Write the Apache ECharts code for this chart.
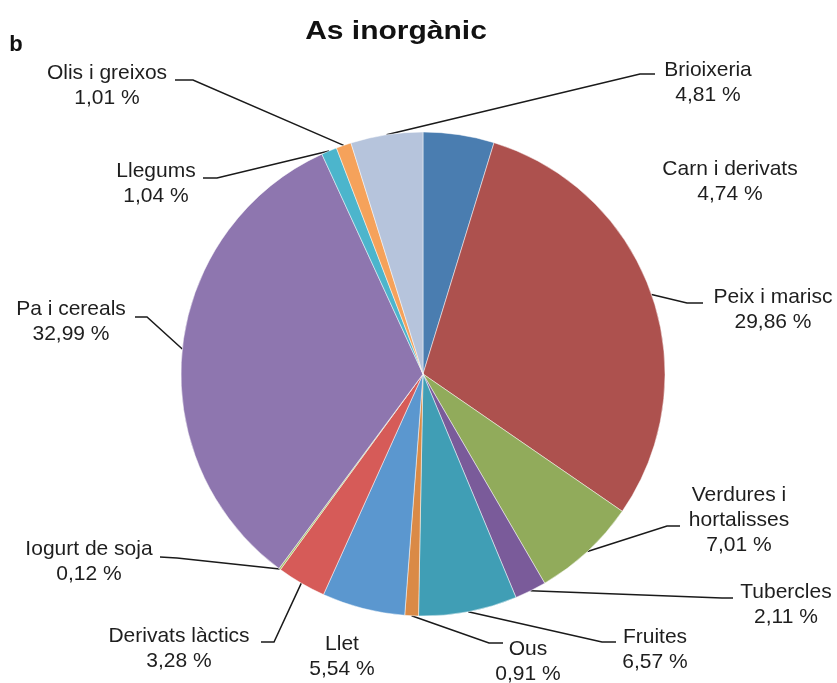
<!DOCTYPE html>
<html><head><meta charset="utf-8">
<script src="https://cdn.jsdelivr.net/npm/echarts@6/dist/echarts.min.js"></script>
<style>html,body{margin:0;padding:0;background:#fff}#c{width:837px;height:683px}</style>
</head><body><div id="c"></div>
<script>
// ---- data ----
const categories = ['Carn i derivats', 'Peix i marisc', 'Verdures i\nhortalisses', 'Tubercles', 'Fruites', 'Ous', 'Llet', 'Derivats làctics', 'Iogurt de soja', 'Pa i cereals', 'Llegums', 'Olis i greixos', 'Brioixeria'];
const values = [4.74, 29.86, 7.01, 2.11, 6.57, 0.91, 5.54, 3.28, 0.12, 32.99, 1.04, 1.01, 4.81];
const titleText = 'As inorgànic';
const panelLetter = 'b';

// ---- style ----
const colors = ['#4A7DB0', '#AD514E', '#91AB5B', '#7A5B9A', '#409EB5', '#DA8A46', '#5B97CF', '#D65B58', '#A5C266', '#8E76AF', '#4CB5CC', '#F5A25B', '#B6C4DC'];
const CX = 423, CY = 374, R = 242;
// label centre + guide-line elbow/end (layout only)
const labelPos = [
  { x: 730, y: 182, line: null },
  { x: 773, y: 310, line: [[687, 303], [703, 303]] },
  { x: 739, y: 520, line: [[667, 526], [680, 526]] },
  { x: 786, y: 605, line: [[722, 598], [733, 598]] },
  { x: 655, y: 650, line: [[602, 642], [616, 642]] },
  { x: 528, y: 662, line: [[489, 643], [503, 643]] },
  { x: 342, y: 657, line: null },
  { x: 179, y: 649, line: [[274, 642], [261, 642]] },
  { x: 89, y: 562, line: [[177, 558], [160, 557]] },
  { x: 71, y: 322, line: [[147, 317], [135, 317]] },
  { x: 156, y: 184, line: [[217, 178], [203, 178]] },
  { x: 107, y: 86, line: [[193, 80], [175, 80]] },
  { x: 708, y: 83, line: [[640, 74], [655, 74]] }
];

const fmt = v => v.toFixed(2).replace('.', ',') + ' %';
const total = values.reduce((a, b) => a + b, 0);
const data = categories.map((n, i) => ({
  name: n,
  value: values[i],
  itemStyle: { color: colors[i] },
  labelLine: { show: !!labelPos[i].line }
}));

function edgePoint(i) {
  let acc = 0;
  for (let k = 0; k < i; k++) acc += values[k];
  const th = (acc + values[i] / 2) / total * 2 * Math.PI;
  return [CX + R * Math.sin(th), CY - R * Math.cos(th)];
}

const chart = echarts.init(document.getElementById('c'), null, { renderer: 'canvas' });
chart.setOption({
  backgroundColor: '#fff',
  animation: false,
  graphic: [
    { type: 'text', x: 396, y: 32, scaleX: 1.2,
      style: { text: titleText, font: 'bold 25px "Liberation Sans", Arial, sans-serif', fill: '#111', textAlign: 'center', textVerticalAlign: 'middle' } },
    { type: 'text', x: 16, y: 45,
      style: { text: panelLetter, font: 'bold 22px "Liberation Sans", Arial, sans-serif', fill: '#111', textAlign: 'center', textVerticalAlign: 'middle' } }
  ],
  series: [{
    type: 'pie',
    center: [CX, CY],
    radius: R,
    startAngle: 90,
    clockwise: true,
    avoidLabelOverlap: false,
    itemStyle: { borderColor: 'rgba(255,255,255,0.8)', borderWidth: 0.6 },
    label: {
      show: true,
      position: 'outside',
      formatter: p => p.name + '\n' + fmt(p.value),
      fontFamily: '"Liberation Sans", Arial, sans-serif',
      fontSize: 21,
      lineHeight: 25,
      color: '#1e1e1e',
      align: 'center'
    },
    labelLine: { show: true, lineStyle: { color: '#1a1a1a', width: 1.5 } },
    labelLayout: function (p) {
      const L = labelPos[p.dataIndex];
      const out = { x: L.x, y: L.y, align: 'center', verticalAlign: 'middle' };
      if (L.line) {
        const s = (p.labelLinePoints && p.labelLinePoints[0]) || edgePoint(p.dataIndex);
        out.labelLinePoints = [s, L.line[0], L.line[1]];
      }
      return out;
    },
    emphasis: { disabled: true },
    data: data
  }]
});
</script>
</body></html>
